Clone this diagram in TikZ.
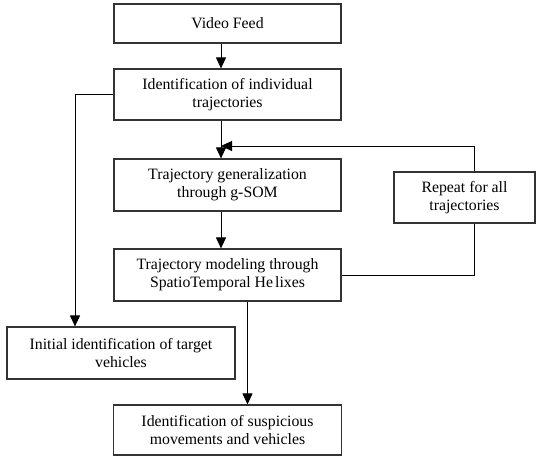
\documentclass[tikz,border=0pt]{standalone}
\usepackage{fontspec}
\setmainfont{Liberation Serif}
\usetikzlibrary{arrows.meta}
\begin{document}
\begin{tikzpicture}[x=1pt,y=-1pt,
  box/.style={draw=black!80, line width=1.2pt, fill=white, align=center,
    font=\fontsize{15.8}{18.3}\selectfont, inner sep=0pt},
  conn/.style={draw=black, line width=1pt},
  arr/.style={conn, -{Triangle[length=11pt,width=10pt]}}
]
\fill[white] (0,0) rectangle (536,456);
\useasboundingbox (0,0) rectangle (536,456);

\node[box, minimum width=227pt, minimum height=39pt] (vf) at (227.5,23.5) {Video Feed};
\node[box, minimum width=227pt, minimum height=51pt] (idt) at (227.5,94.5) {Identification of individual\\trajectories};
\node[box, minimum width=227pt, minimum height=52pt] (gsom) at (227.5,185) {Trajectory generalization\\through g-SOM};
\node[box, minimum width=227pt, minimum height=52pt] (model) at (227.5,275) {Trajectory modeling through\\SpatioTemporal He\hspace{2pt}lixes};
\node[box, minimum width=141pt, minimum height=51pt] (rep) at (464.5,197.5) {Repeat for all\\trajectories};
\node[box, minimum width=228pt, minimum height=52pt] (init) at (121,353) {Initial identification of target\\vehicles};
\node[box, minimum width=228pt, minimum height=50pt] (susp) at (227.5,430) {Identification of suspicious\\movements and vehicles};

\coordinate (cx) at (221,0);
\coordinate (fbx) at (474,0);
\coordinate (lx) at (75,0);
\coordinate (sx) at (247.5,0);
\coordinate (j) at (221,146);

\draw[arr] (cx |- vf.south) -- (cx |- idt.north);
\draw[arr] (cx |- idt.south) -- (cx |- gsom.north);
\draw[arr] (cx |- gsom.south) -- (cx |- model.north);
\draw[conn] (model.east) -| (fbx |- rep.south);
\draw[arr] (fbx |- rep.north) |- (j);
\draw[arr] (idt.west) -| (lx |- init.north);
\draw[arr] (sx |- model.south) -- (sx |- susp.north);
\end{tikzpicture}
\end{document}
